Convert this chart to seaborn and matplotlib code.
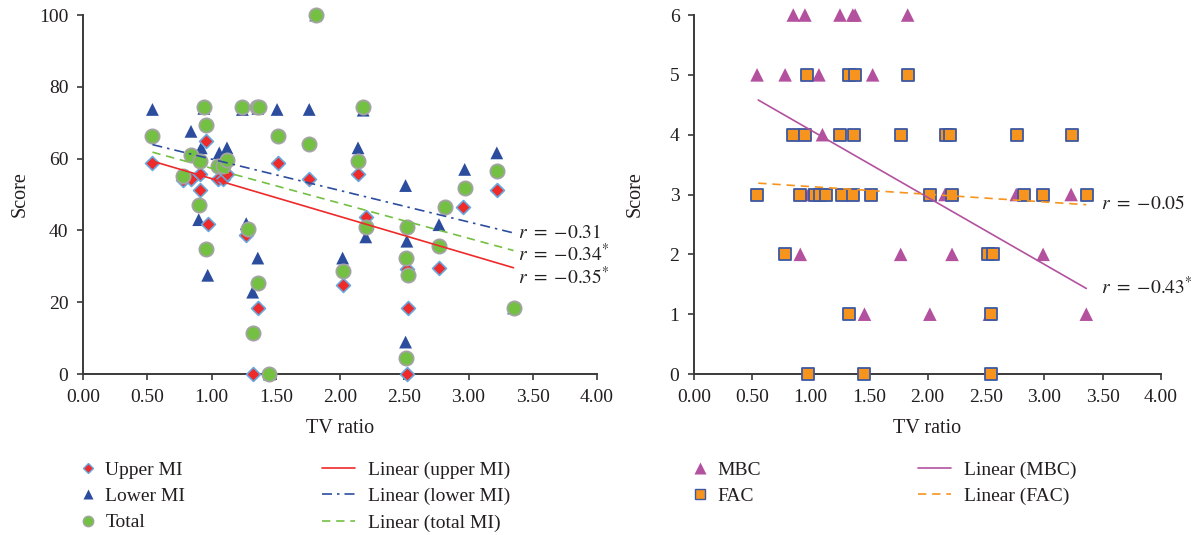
import matplotlib
matplotlib.use("Agg")
import matplotlib.pyplot as plt
from matplotlib.lines import Line2D
import seaborn as sns

# ---- data ----
upper_x = [0.54, 0.78, 0.84, 0.91, 0.91, 0.96, 0.97, 1.05, 1.09, 1.12, 1.27, 1.32,
           1.36, 1.52, 1.76, 2.02, 2.14, 2.20, 2.52, 2.52, 2.53, 2.77, 2.96, 3.22]
upper_y = [58.9, 54.0, 54.2, 55.8, 51.2, 64.9, 41.9, 54.3, 54.3, 55.8, 38.8, 0,
           18.4, 58.9, 54.3, 24.9, 55.8, 43.7, 29.3, 0, 18.4, 29.5, 46.5, 51.2]

lower_x = [0.54, 0.84, 0.90, 0.92, 0.94, 0.97, 1.06, 1.12, 1.24, 1.27, 1.32, 1.36,
           1.36, 1.45, 1.51, 1.76, 1.81, 2.02, 2.14, 2.18, 2.20, 2.51, 2.52, 2.51,
           2.77, 2.97, 3.22, 3.35]
lower_y = [73.7, 67.6, 43.0, 63.0, 74.0, 27.5, 61.6, 63.0, 73.7, 41.9, 22.8, 74.0,
           32.3, 0, 73.7, 73.7, 100, 32.3, 63.0, 73.5, 38.2, 52.5, 37.0, 8.9,
           41.6, 57.0, 61.6, 18.4]

total_x = [0.54, 0.78, 0.84, 0.90, 0.91, 0.94, 0.96, 0.96, 1.05, 1.09, 1.12, 1.24,
           1.28, 1.32, 1.35, 1.37, 1.36, 1.45, 1.52, 1.76, 1.81, 2.02, 2.14, 2.18,
           2.20, 2.51, 2.51, 2.52, 2.53, 2.77, 2.82, 2.97, 3.22, 3.35]
total_y = [66.2, 55.1, 60.9, 47.2, 59.3, 74.4, 69.3, 34.7, 58.0, 58.0, 59.6, 74.4,
           40.3, 11.5, 74.4, 74.4, 25.4, 0, 66.2, 64.0, 100, 28.7, 59.4, 74.4,
           41.0, 32.4, 4.4, 41.0, 27.7, 35.7, 46.5, 51.8, 56.5, 18.4]

mbc_x = [0.85, 0.95, 1.25, 1.36, 1.38, 1.83, 0.54, 0.78, 1.07, 1.53, 1.10, 0.98,
         2.15, 2.76, 3.23, 0.91, 1.77, 2.21, 2.99, 1.46, 2.02, 2.53, 3.36]
mbc_y = [6, 6, 6, 6, 6, 6, 5, 5, 5, 5, 4, 3, 3, 3, 3, 2, 2, 2, 2, 1, 1, 1, 1]

fac_x = [0.97, 1.33, 1.38, 1.83, 0.85, 0.95, 1.25, 1.37, 1.77, 2.16, 2.19, 2.77,
         3.24, 0.54, 0.91, 1.04, 1.08, 1.13, 1.27, 1.36, 1.52, 2.02, 2.21, 2.83,
         2.99, 3.37, 0.78, 2.52, 2.56, 1.33, 2.54, 0.98, 1.46, 2.54]
fac_y = [5, 5, 5, 5, 4, 4, 4, 4, 4, 4, 4, 4, 4, 3, 3, 3, 3, 3, 3, 3, 3, 3, 3, 3,
         3, 3, 2, 2, 2, 1, 1, 0, 0, 0]

# linear trend lines (end points)
trend_x_left = [0.54, 3.35]
trend_upper = [59.3, 29.6]
trend_lower = [63.9, 39.3]
trend_total = [61.8, 34.4]
trend_x_right = [0.55, 3.36]
trend_mbc = [4.58, 1.43]
trend_fac = [3.19, 2.83]

r_left = [r"$r\ =\ {-}0.31$", r"$r\ =\ {-}0.34^{*}$", r"$r\ =\ {-}0.35^{*}$"]
r_left_y = [39.3, 33.3, 27.0]
r_right = [r"$r\ =\ {-}0.05$", r"$r\ =\ {-}0.43^{*}$"]
r_right_y = [2.84, 1.45]

x_ticks = [0, 0.5, 1, 1.5, 2, 2.5, 3, 3.5, 4]

# ---- colours ----
RED = "#ee2a2a"
LBLUE = "#6aa7dc"
DBLUE = "#2c4d9e"
GREEN = "#73c043"
GRAY = "#a3a3a3"
PURPLE = "#b3519f"
ORANGE = "#f7941d"
FACEDGE = "#3d58a3"
INK = "#231f20"

sns.set_theme(style="ticks")
plt.rcParams["font.family"] = ["Liberation Serif", "DejaVu Serif"]
plt.rcParams["mathtext.fontset"] = "stix"

fig = plt.figure(figsize=(12.02, 5.35), dpi=100)
ax1 = fig.add_axes([0.0691, 0.3009, 0.4276, 0.6710])
ax2 = fig.add_axes([0.5774, 0.3009, 0.3885, 0.6710])

# ---- left panel ----
sns.scatterplot(x=lower_x, y=lower_y, ax=ax1, marker="^", s=85, color=DBLUE,
                edgecolor="none", clip_on=False, zorder=3)
sns.scatterplot(x=upper_x, y=upper_y, ax=ax1, marker="D", s=50, color=RED,
                edgecolor=LBLUE, linewidth=1.2, clip_on=False, zorder=4)
sns.scatterplot(x=total_x, y=total_y, ax=ax1, marker="o", s=105, color=GREEN,
                edgecolor=GRAY, linewidth=1.3, clip_on=False, zorder=5)

sns.lineplot(x=trend_x_left, y=trend_upper, ax=ax1, color=RED, lw=1.2, zorder=6)
sns.lineplot(x=trend_x_left, y=trend_lower, ax=ax1, color=DBLUE, lw=1.2,
             zorder=6).lines[-1].set_dashes([6, 3, 1.5, 3])
sns.lineplot(x=trend_x_left, y=trend_total, ax=ax1, color=GREEN, lw=1.2,
             zorder=6).lines[-1].set_dashes([5, 3.5])

for s, yv in zip(r_left, r_left_y):
    ax1.text(3.385, yv, s, fontsize=14, va="center", ha="left", color=INK)

ax1.set_xlim(0, 4)
ax1.set_ylim(0, 100)
ax1.set_yticks([0, 20, 40, 60, 80, 100])

# ---- right panel ----
sns.scatterplot(x=mbc_x, y=mbc_y, ax=ax2, marker="^", s=95, color=PURPLE,
                edgecolor="none", clip_on=False, zorder=3)
sns.scatterplot(x=fac_x, y=fac_y, ax=ax2, marker="s", s=75, color=ORANGE,
                edgecolor=FACEDGE, linewidth=1.3, clip_on=False, zorder=4)

sns.lineplot(x=trend_x_right, y=trend_mbc, ax=ax2, color=PURPLE, lw=1.2, zorder=6)
sns.lineplot(x=trend_x_right, y=trend_fac, ax=ax2, color=ORANGE, lw=1.2,
             zorder=6).lines[-1].set_dashes([5, 3.5])

for s, yv in zip(r_right, r_right_y):
    ax2.text(3.49, yv, s, fontsize=14, va="center", ha="left", color=INK)

ax2.set_xlim(0, 4)
ax2.set_ylim(0, 6)
ax2.set_yticks([0, 1, 2, 3, 4, 5, 6])

for ax in (ax1, ax2):
    ax.set_xticks(x_ticks)
    ax.set_xticklabels([f"{v:.2f}" for v in x_ticks])
    sns.despine(ax=ax)
    for sp in ("left", "bottom"):
        ax.spines[sp].set_color("#3a3a3a")
        ax.spines[sp].set_linewidth(1.4)
    ax.tick_params(direction="out", length=4, width=1.2, color="#3a3a3a",
                   labelsize=14, labelcolor=INK, pad=6.5)
    ax.set_xlabel("TV ratio", fontsize=14.5, color=INK)
    ax.set_ylabel("Score", fontsize=14.5, color=INK)
    ax.xaxis.set_label_coords(0.5, -0.125)

ax1.yaxis.set_label_coords(-0.103, 0.5)
ax2.yaxis.set_label_coords(-0.106, 0.5)

# ---- legends below the panels ----
W, H = 1202.0, 535.0
TOP = 1 - 461 / H
leg_kw = dict(loc="upper left", frameon=False, fontsize=14, borderpad=0,
              borderaxespad=0, labelspacing=0.45, bbox_transform=fig.transFigure,
              labelcolor=INK)

h_upper = Line2D([], [], ls="none", marker="D", ms=5.5, mfc=RED, mec=LBLUE, mew=1.0)
h_lower = Line2D([], [], ls="none", marker="^", ms=7, mfc=DBLUE, mec="none")
h_total = Line2D([], [], ls="none", marker="o", ms=7.5, mfc=GREEN, mec=GRAY, mew=1.0)
fig.legend([h_upper, h_lower, h_total], ["Upper MI", "Lower MI", "Total"],
           bbox_to_anchor=(80 / W, TOP), handlelength=0.85,
           handletextpad=0.45, **leg_kw)

t_upper = Line2D([], [], color=RED, lw=1.2)
t_lower = Line2D([], [], color=DBLUE, lw=1.2, dashes=[6, 3, 1.5, 3])
t_total = Line2D([], [], color=GREEN, lw=1.2, dashes=[5, 3.5])
fig.legend([t_upper, t_lower, t_total],
           ["Linear (upper MI)", "Linear (lower MI)", "Linear (total MI)"],
           bbox_to_anchor=(322 / W, TOP), handlelength=1.7,
           handletextpad=0.67, **leg_kw)

h_mbc = Line2D([], [], ls="none", marker="^", ms=8, mfc=PURPLE, mec="none")
h_fac = Line2D([], [], ls="none", marker="s", ms=7, mfc=ORANGE, mec=FACEDGE, mew=1.0)
fig.legend([h_mbc, h_fac], ["MBC", "FAC"],
           bbox_to_anchor=(692 / W, TOP), handlelength=0.85,
           handletextpad=0.45, **leg_kw)

t_mbc = Line2D([], [], color=PURPLE, lw=1.2)
t_fac = Line2D([], [], color=ORANGE, lw=1.2, dashes=[5, 3.5])
fig.legend([t_mbc, t_fac], ["Linear (MBC)", "Linear (FAC)"],
           bbox_to_anchor=(918 / W, TOP), handlelength=1.7,
           handletextpad=0.67, **leg_kw)

fig.savefig("out.png", dpi=100)
